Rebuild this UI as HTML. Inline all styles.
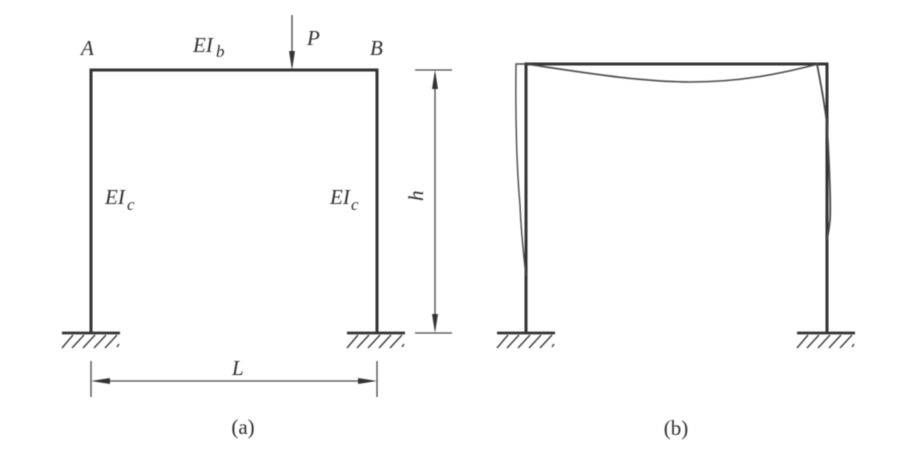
<!DOCTYPE html>
<html><head><meta charset="utf-8"><style>
html,body{margin:0;padding:0;background:#fff;width:903px;height:462px;overflow:hidden}
svg{display:block;filter:blur(.45px)}
text{font-family:"Liberation Serif",serif;fill:#2e2e2e}
.i{font-style:italic;font-size:21px}
.s{font-style:italic;font-size:17px}
</style></head><body>
<svg width="903" height="462" viewBox="0 0 903 462" xmlns="http://www.w3.org/2000/svg">
<defs>
<g id="g"><path d="M-29 0H29" stroke="#333" stroke-width="2.8" fill="none"/>
<path d="M-18 2L-29 15M-7 2L-19 15M4 2L-8 15M15 2L3 15M26 2L14 15M28 11L26 14" stroke="#3c3c3c" stroke-width="1.4" fill="none"/></g>
</defs>
<!-- a -->
<path d="M91 333V70H377V333" fill="none" stroke="#333" stroke-width="3"/>
<use href="#g" x="91" y="333"/><use href="#g" x="376" y="333"/>
<g stroke="#484848" stroke-width="1.3" fill="none">
<path d="M292 15V66"/><path d="M415 70H452M415 333H452M435 74V329"/>
<path d="M91 361V397M377 361V397M96 381H372"/>
</g>
<g fill="#333">
<path d="M292 70L289 51H295Z"/><path d="M435 70L432 89H438Z"/><path d="M435 333L432 314H438Z"/>
<path d="M91 381L110 378V384Z"/><path d="M377 381L358 378V384Z"/>
</g>
<text class="i" x="81" y="55">A</text>
<text class="i" x="193" y="52">EI</text><text class="s" x="216" y="57">b</text>
<text class="i" x="307" y="45">P</text>
<text class="i" x="370" y="55">B</text>
<text class="i" x="105" y="204">EI</text><text class="s" x="127" y="210">c</text>
<text class="i" x="330" y="204">EI</text><text class="s" x="351" y="210">c</text>
<text class="i" transform="translate(423 201) rotate(-90)">h</text>
<text class="i" x="232" y="375">L</text>
<text x="243" y="434" font-size="21" text-anchor="middle">(a)</text>
<!-- b -->
<path d="M526 333V64H827V333" fill="none" stroke="#333" stroke-width="3"/>
<use href="#g" x="526" y="333"/><use href="#g" x="826" y="333"/>
<g stroke="#484848" stroke-width="1.4" fill="none">
<path d="M526 64H516C515.500 110 516 160 520 205C521 230 523 250 526 276"/>
<path d="M526 64C580 72 640 82 690 82C740 82 780 74 818 64" stroke-width="1.6"/>
<path d="M817 64C821 85 825 105 827 125C829 160 831 200 830 220C829 230 828 235 827 240" stroke-width="1.8"/>
</g>
<text x="676" y="435" font-size="21" text-anchor="middle">(b)</text>
</svg>
</body></html>
